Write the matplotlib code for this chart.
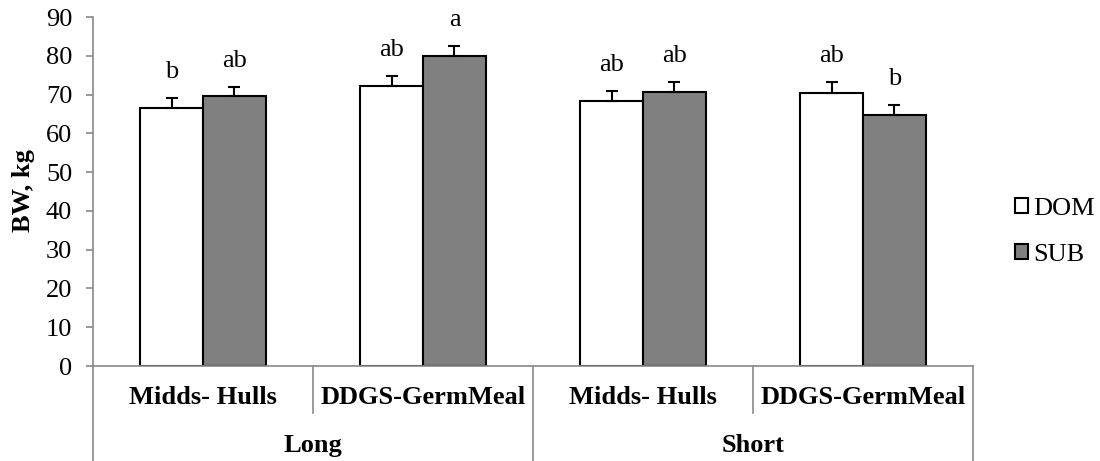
import matplotlib.pyplot as plt
import matplotlib.transforms as mtransforms
from matplotlib.patches import Patch
import numpy as np

plt.rcParams['font.family'] = ['Liberation Serif', 'DejaVu Serif']
plt.rcParams['font.size'] = 19

# data
diets = ['Midds- Hulls', 'DDGS-GermMeal', 'Midds- Hulls', 'DDGS-GermMeal']
periods = ['Long', 'Short']
dom = [66.6, 72.2, 68.4, 70.5]
dom_se = [2.6, 2.5, 2.6, 2.7]
sub = [69.5, 79.9, 70.7, 64.7]
sub_se = [2.5, 2.7, 2.6, 2.5]
dom_letters = ['b', 'ab', 'ab', 'ab']
sub_letters = ['ab', 'a', 'ab', 'b']
yticks = [0, 10, 20, 30, 40, 50, 60, 70, 80, 90]

W, H = 1100, 461
fig = plt.figure(figsize=(W / 100, H / 100), dpi=100)
ax = fig.add_axes([93 / W, 95 / H, 880 / W, 349 / H])

axis_grey = '#898989'
x = np.arange(len(diets))
w = 0.286

ax.bar(x - w / 2, dom, w, color='white', edgecolor='black', linewidth=1.5, label='DOM', zorder=2)
ax.bar(x + w / 2, sub, w, color='#808080', edgecolor='black', linewidth=1.5, label='SUB', zorder=2)
ax.errorbar(x - w / 2, dom, yerr=[np.zeros(len(dom)), dom_se], fmt='none',
            ecolor='black', elinewidth=1.5, capsize=4.5, capthick=1.5, zorder=3)
ax.errorbar(x + w / 2, sub, yerr=[np.zeros(len(sub)), sub_se], fmt='none',
            ecolor='black', elinewidth=1.5, capsize=4.5, capthick=1.5, zorder=3)

for i in range(len(diets)):
    ax.annotate(dom_letters[i], (x[i] - w / 2, dom[i] + dom_se[i]), xytext=(0, 14.5),
                textcoords='offset points', ha='center', va='baseline')
    ax.annotate(sub_letters[i], (x[i] + w / 2, sub[i] + sub_se[i]), xytext=(0, 14.5),
                textcoords='offset points', ha='center', va='baseline')

ax.set_xlim(-0.5, len(diets) - 0.5)
ax.set_ylim(0, 90)
ax.set_yticks(yticks)
ax.set_xticks([])
ax.tick_params(axis='y', direction='out', length=5, width=1.2, color=axis_grey, pad=10)
for s in ['top', 'right']:
    ax.spines[s].set_visible(False)
for s in ['left', 'bottom']:
    ax.spines[s].set_color(axis_grey)
    ax.spines[s].set_linewidth(1.2)

ax.set_ylabel('BW, kg', fontweight='bold')
ax.yaxis.set_label_coords(-0.066, 0.504)

# two-level category axis
trans = mtransforms.blended_transform_factory(ax.transData, fig.transFigure)
y0 = 95 / H
for b in np.arange(-0.5, len(diets), 1.0):
    full = int(round(b + 0.5)) % 2 == 0
    ax.plot([b, b], [y0, 0 if full else 48 / H], color=axis_grey, lw=1.2,
            transform=trans, clip_on=False)
for i, d in enumerate(diets):
    ax.text(x[i], 64 / H, d, transform=trans, ha='center', va='center', fontweight='bold')
for j, p in enumerate(periods):
    ax.text(2 * j + 0.5, 16 / H, p, transform=trans, ha='center', va='center', fontweight='bold')

handles = [Patch(facecolor='white', edgecolor='black', linewidth=1.5),
           Patch(facecolor='#808080', edgecolor='black', linewidth=1.5)]
fig.legend(handles, ['DOM', 'SUB'], loc='center left', bbox_to_anchor=(1015 / W, 0.497),
           frameon=False, handlelength=0.5, handleheight=0.5, handletextpad=0.2,
           labelspacing=0.89, borderpad=0, borderaxespad=0)

fig.savefig('out.png', dpi=100)
